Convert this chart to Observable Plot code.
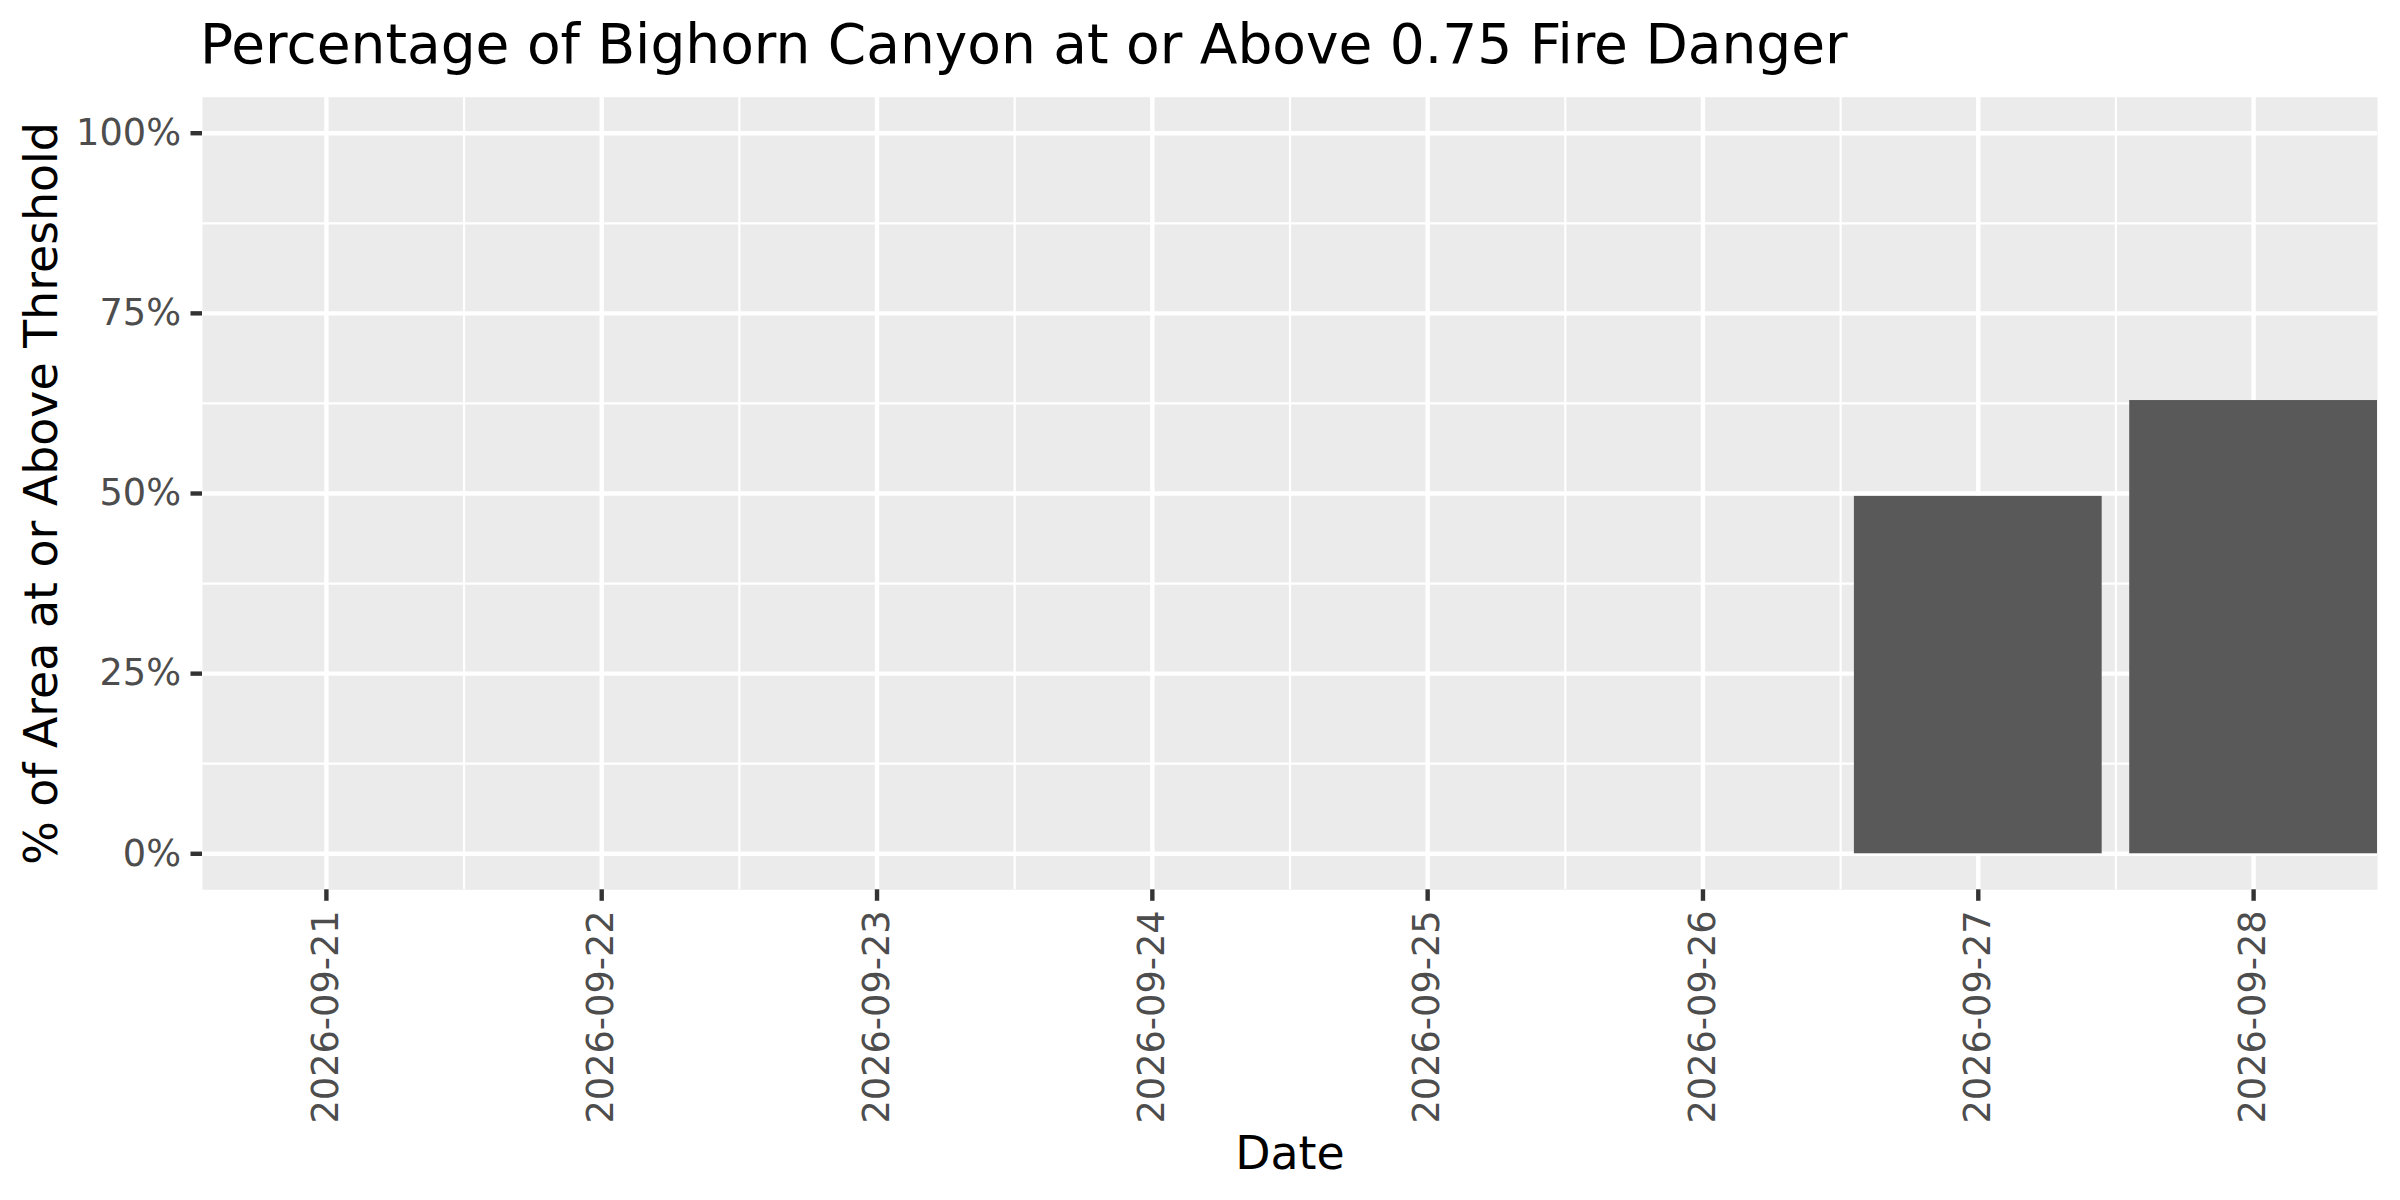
<!DOCTYPE html>
<html>
<head>
<meta charset="utf-8">
<script src="https://cdn.jsdelivr.net/npm/d3@7"></script>
<script src="https://cdn.jsdelivr.net/npm/@observablehq/plot@0.6"></script>
<style>
  html, body { margin: 0; padding: 0; background: #ffffff; }
  svg { display: block; }
  #title text { font-family: "DejaVu Sans", sans-serif; }
</style>
</head>
<body>
<svg id="title" width="2400" height="80">
  <text x="200" y="62.7" font-size="55" fill="#000000">Percentage of Bighorn Canyon at or Above 0.75 Fire Danger</text>
</svg>
<div id="chart"></div>
<script>
// ---- data ----
const dates = ["2026-09-21", "2026-09-22", "2026-09-23", "2026-09-24",
               "2026-09-25", "2026-09-26", "2026-09-27", "2026-09-28"];
const pctAbove = [0, 0, 0, 0, 0, 0, 0.496, 0.629];
const yTicks = [0, 0.25, 0.5, 0.75, 1];
const yMinor = [0.125, 0.375, 0.625, 0.875];
const xLabel = "Date";
const yLabel = "% of Area at or Above Threshold";

const rows = dates.map((d, i) => ({date: d, pos: i + 1, value: pctAbove[i]}));
const xTicks = rows.map(r => r.pos);
const xMinor = xTicks.slice(1).map(p => p - 0.5);

const chart = Plot.plot({
  width: 2400,
  height: 1120,
  marginTop: 16.7,
  marginBottom: 310.7,
  marginLeft: 202,
  marginRight: 23,
  style: {fontFamily: "DejaVu Sans, sans-serif", background: "#ffffff", overflow: "visible"},
  x: {type: "linear", domain: [0.55, 8.45]},
  y: {type: "linear", domain: [-0.05, 1.05]},
  marks: [
    Plot.frame({fill: "#EBEBEB", stroke: null}),
    Plot.ruleY(yMinor, {stroke: "#ffffff", strokeWidth: 2.2}),
    Plot.ruleX(xMinor, {stroke: "#ffffff", strokeWidth: 2.2}),
    Plot.ruleY(yTicks, {stroke: "#ffffff", strokeWidth: 4.4}),
    Plot.ruleX(xTicks, {stroke: "#ffffff", strokeWidth: 4.4}),
    Plot.rectY(rows, {
      x1: d => d.pos - 0.45,
      x2: d => d.pos + 0.45,
      y: "value",
      fill: "#595959"
    }),
    Plot.axisY(yTicks, {
      tickFormat: d => Math.round(d * 100) + "%",
      tickSize: 11.5,
      tickPadding: 10,
      fontSize: 36.7,
      fill: "#4D4D4D",
      stroke: "#333333",
      strokeWidth: 4.4,
      label: null
    }),
    Plot.axisX(xTicks, {
      tickFormat: p => dates[p - 1],
      tickRotate: -90,
      tickSize: 11.5,
      tickPadding: 9,
      fontSize: 36.7,
      fill: "#4D4D4D",
      stroke: "#333333",
      strokeWidth: 4.4,
      label: null
    }),
    Plot.text([xLabel], {
      text: d => d,
      frameAnchor: "bottom",
      dy: 279,
      lineAnchor: "bottom",
      fontSize: 45.8,
      fill: "#000000"
    }),
    Plot.text([yLabel], {
      text: d => d,
      frameAnchor: "left",
      textAnchor: "middle",
      rotate: -90,
      dx: -146,
      lineAnchor: "bottom",
      fontSize: 45.8,
      fill: "#000000"
    })
  ]
});
document.getElementById("chart").appendChild(chart);
</script>
</body>
</html>
